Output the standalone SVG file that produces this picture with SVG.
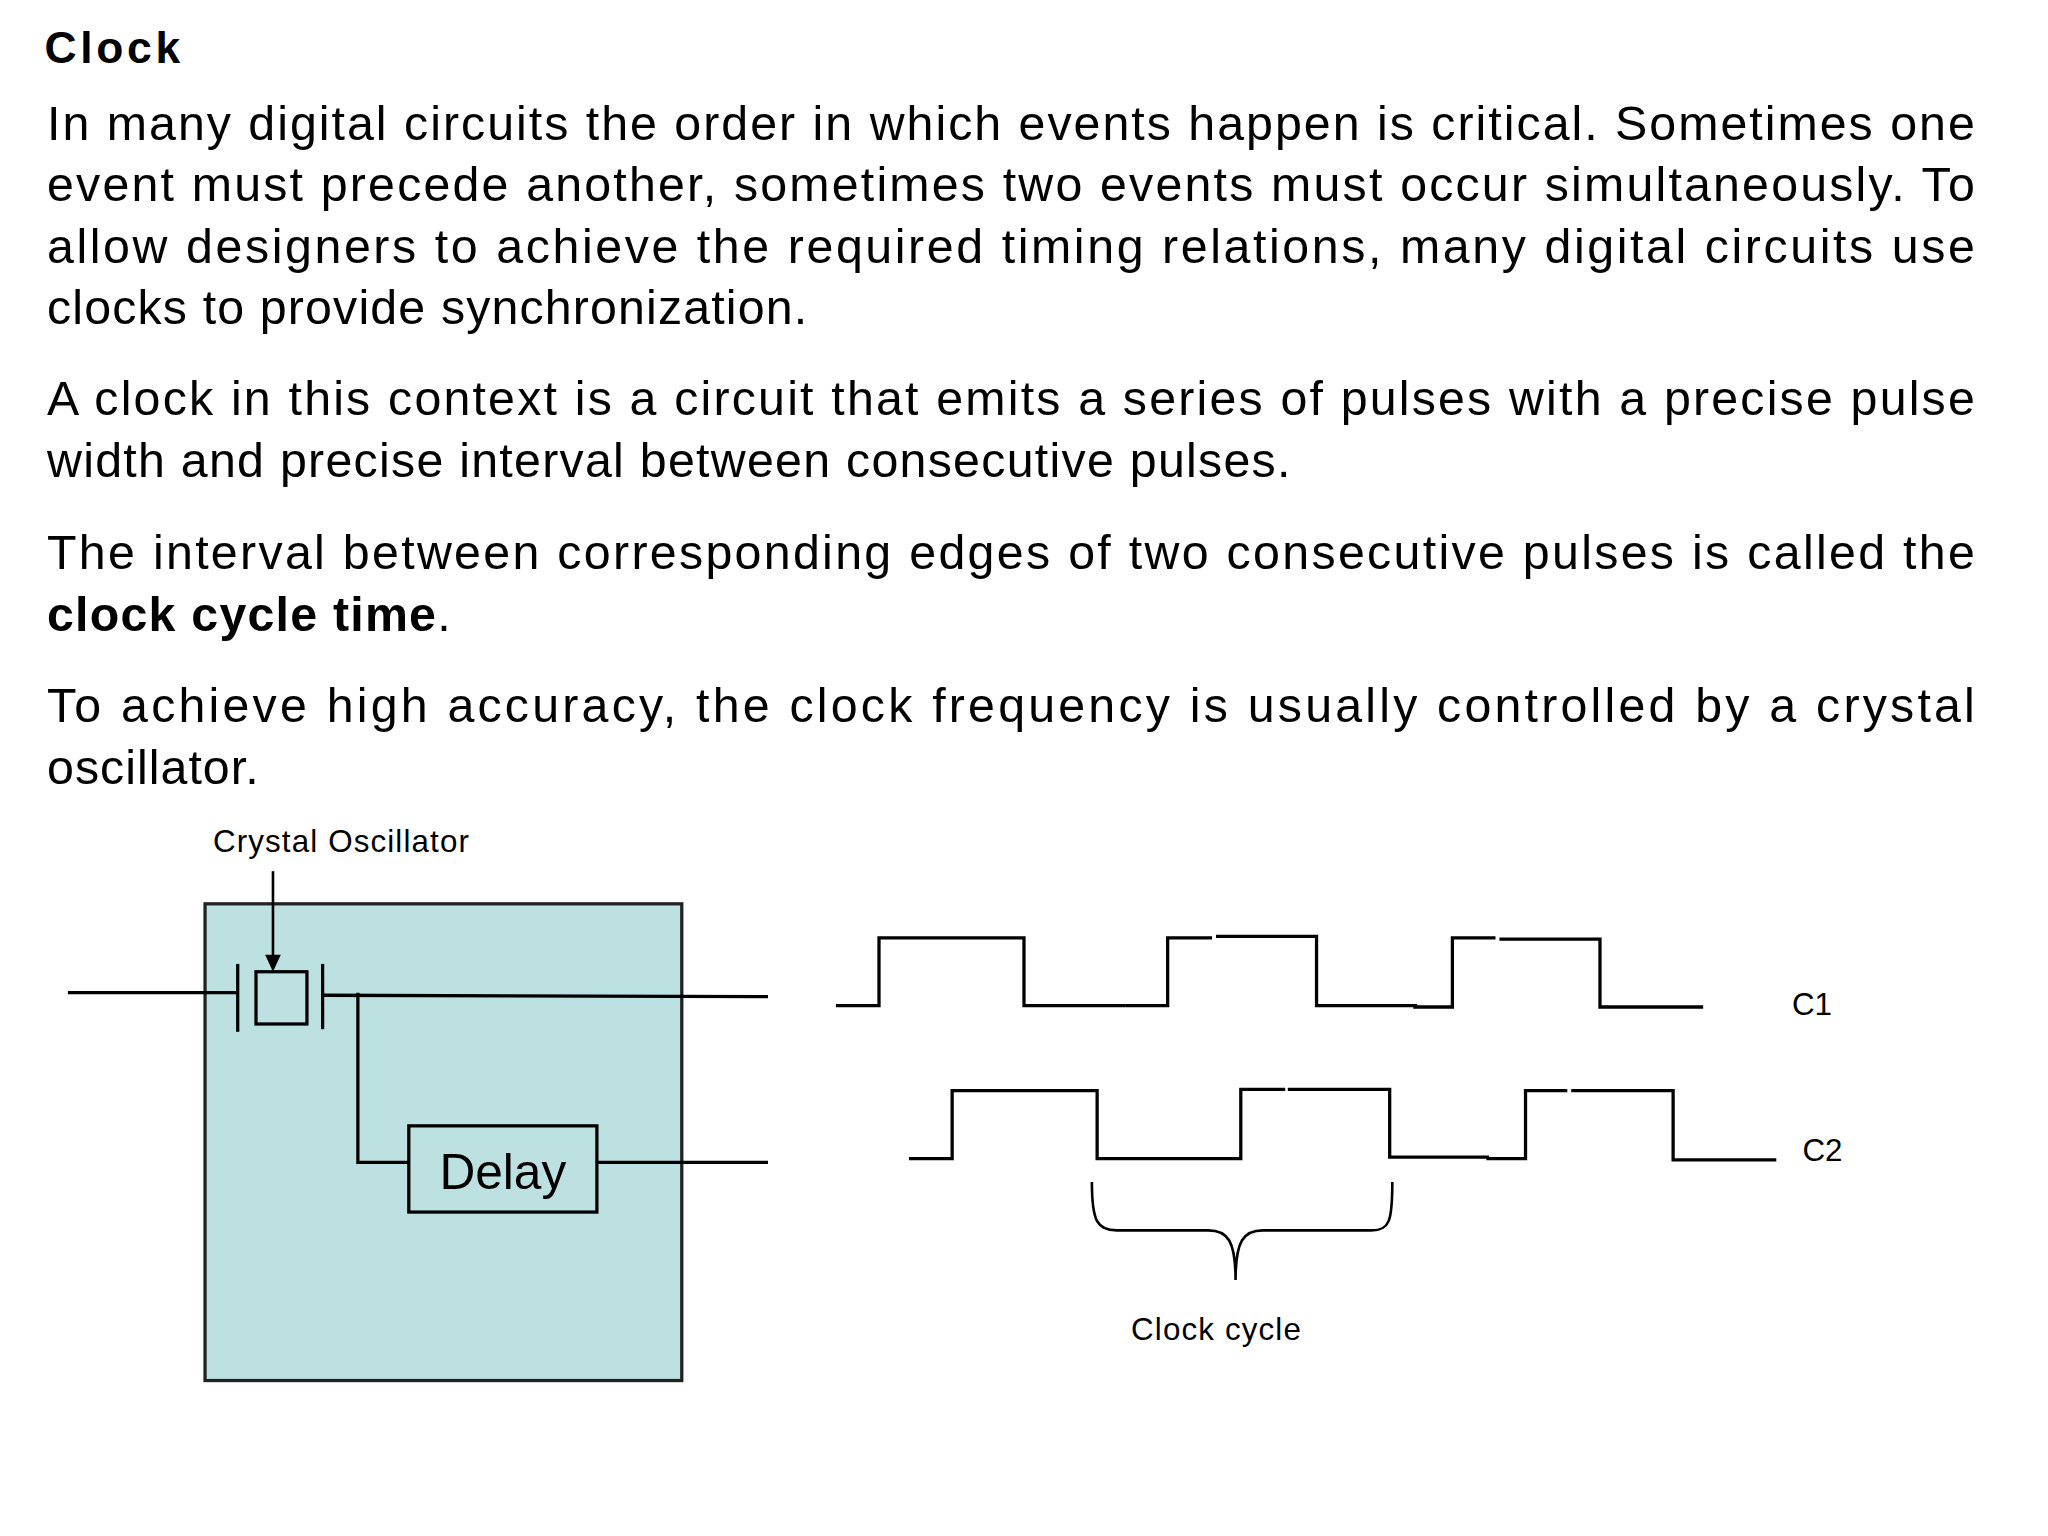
<svg xmlns="http://www.w3.org/2000/svg" width="2048" height="1536" viewBox="0 0 2048 1536">
<style>
.b{font-family:"Liberation Sans",Arial,sans-serif;font-size:37px;fill:#000}
.s{font-family:"Liberation Sans",Arial,sans-serif;font-size:24px;fill:#000}
.w{fill:none;stroke:#000;stroke-width:2.5}
</style>
<rect width="2048" height="1536" fill="#fff"/>
<g transform="scale(1.3061)">
<g id="text">
<text x="34" y="48" class="b" style="font-weight:bold;font-size:34px" textLength="104" lengthAdjust="spacing">Clock</text>
<text x="36" y="107" class="b" textLength="1476" lengthAdjust="spacing">In many digital circuits the order in which events happen is critical. Sometimes one</text>
<text x="36" y="154" class="b" textLength="1476" lengthAdjust="spacing">event must precede another, sometimes two events must occur simultaneously. To</text>
<text x="36" y="201" class="b" textLength="1476" lengthAdjust="spacing">allow designers to achieve the required timing relations, many digital circuits use</text>
<text x="36" y="248" class="b" textLength="582" lengthAdjust="spacing">clocks to provide synchronization.</text>
<text x="36" y="318" class="b" textLength="1476" lengthAdjust="spacing">A clock in this context is a circuit that emits a series of pulses with a precise pulse</text>
<text x="36" y="365" class="b" textLength="952" lengthAdjust="spacing">width and precise interval between consecutive pulses.</text>
<text x="36" y="436" class="b" textLength="1476" lengthAdjust="spacing">The interval between corresponding edges of two consecutive pulses is called the</text>
<text x="36" y="483" class="b" textLength="309" lengthAdjust="spacing"><tspan font-weight="bold">clock cycle time</tspan>.</text>
<text x="36" y="553" class="b" textLength="1476" lengthAdjust="spacing">To achieve high accuracy, the clock frequency is usually controlled by a crystal</text>
<text x="36" y="600" class="b" textLength="162" lengthAdjust="spacing">oscillator.</text>
</g>
<g id="circuit">
<rect x="157" y="692" width="365" height="365" fill="#bde0e1" stroke="#222" stroke-width="2.5"/>
<text x="163" y="652" class="s" textLength="196" lengthAdjust="spacing">Crystal Oscillator</text>
<rect x="196" y="744" width="39" height="40" class="w"/>
<line x1="182" y1="738" x2="182" y2="790" class="w"/>
<line x1="247" y1="738" x2="247" y2="788" class="w"/>
<rect x="313" y="862" width="144" height="66" class="w"/>
<text x="385" y="910" class="b" text-anchor="middle" style="font-size:38px">Delay</text>
</g>
<g id="connectors">
<line x1="209" y1="667" x2="209" y2="732" stroke="#000" stroke-width="2"/>
<path d="M203,731 L215,731 L209,744 z" fill="#000"/>
<line x1="52" y1="760" x2="182" y2="760" class="w"/>
<line x1="247" y1="762" x2="588" y2="763" class="w"/>
<polyline points="274,760 274,890 313,890" class="w"/>
<line x1="457" y1="890" x2="588" y2="890" class="w"/>
</g>
<g id="waves">
<polyline class="w" points="640,770 673,770 673,718 784,718 784,770 862,770"/>
<polyline class="w" points="862,770 894,770 894,718 928,718"/>
<polyline class="w" points="931,717 1008,717 1008,770 1085,770"/>
<polyline class="w" points="1082,771 1112,771 1112,718 1145,718"/>
<polyline class="w" points="1148,719 1225,719 1225,771 1304,771"/>
<polyline class="w" points="696,887 729,887 729,835 840,835 840,887 918,887"/>
<polyline class="w" points="918,887 950,887 950,834 984,834"/>
<polyline class="w" points="986,834 1064,834 1064,886 1140,886"/>
<polyline class="w" points="1138,887 1168,887 1168,835 1200,835"/>
<polyline class="w" points="1203,835 1281,835 1281,888 1360,888"/>
<text x="1372" y="777" class="s">C1</text>
<text x="1380" y="889" class="s">C2</text>
<path d="M836,905 C836,935 840,942 855,942 L925,942 C940,942 946,950 946,980 C946,950 952,942 967,942 L1050,942 C1064,942 1066,935 1066,905" fill="none" stroke="#000" stroke-width="2"/>
<text x="866" y="1026" class="s" textLength="130" lengthAdjust="spacing">Clock cycle</text>
</g>
</g>
</svg>
